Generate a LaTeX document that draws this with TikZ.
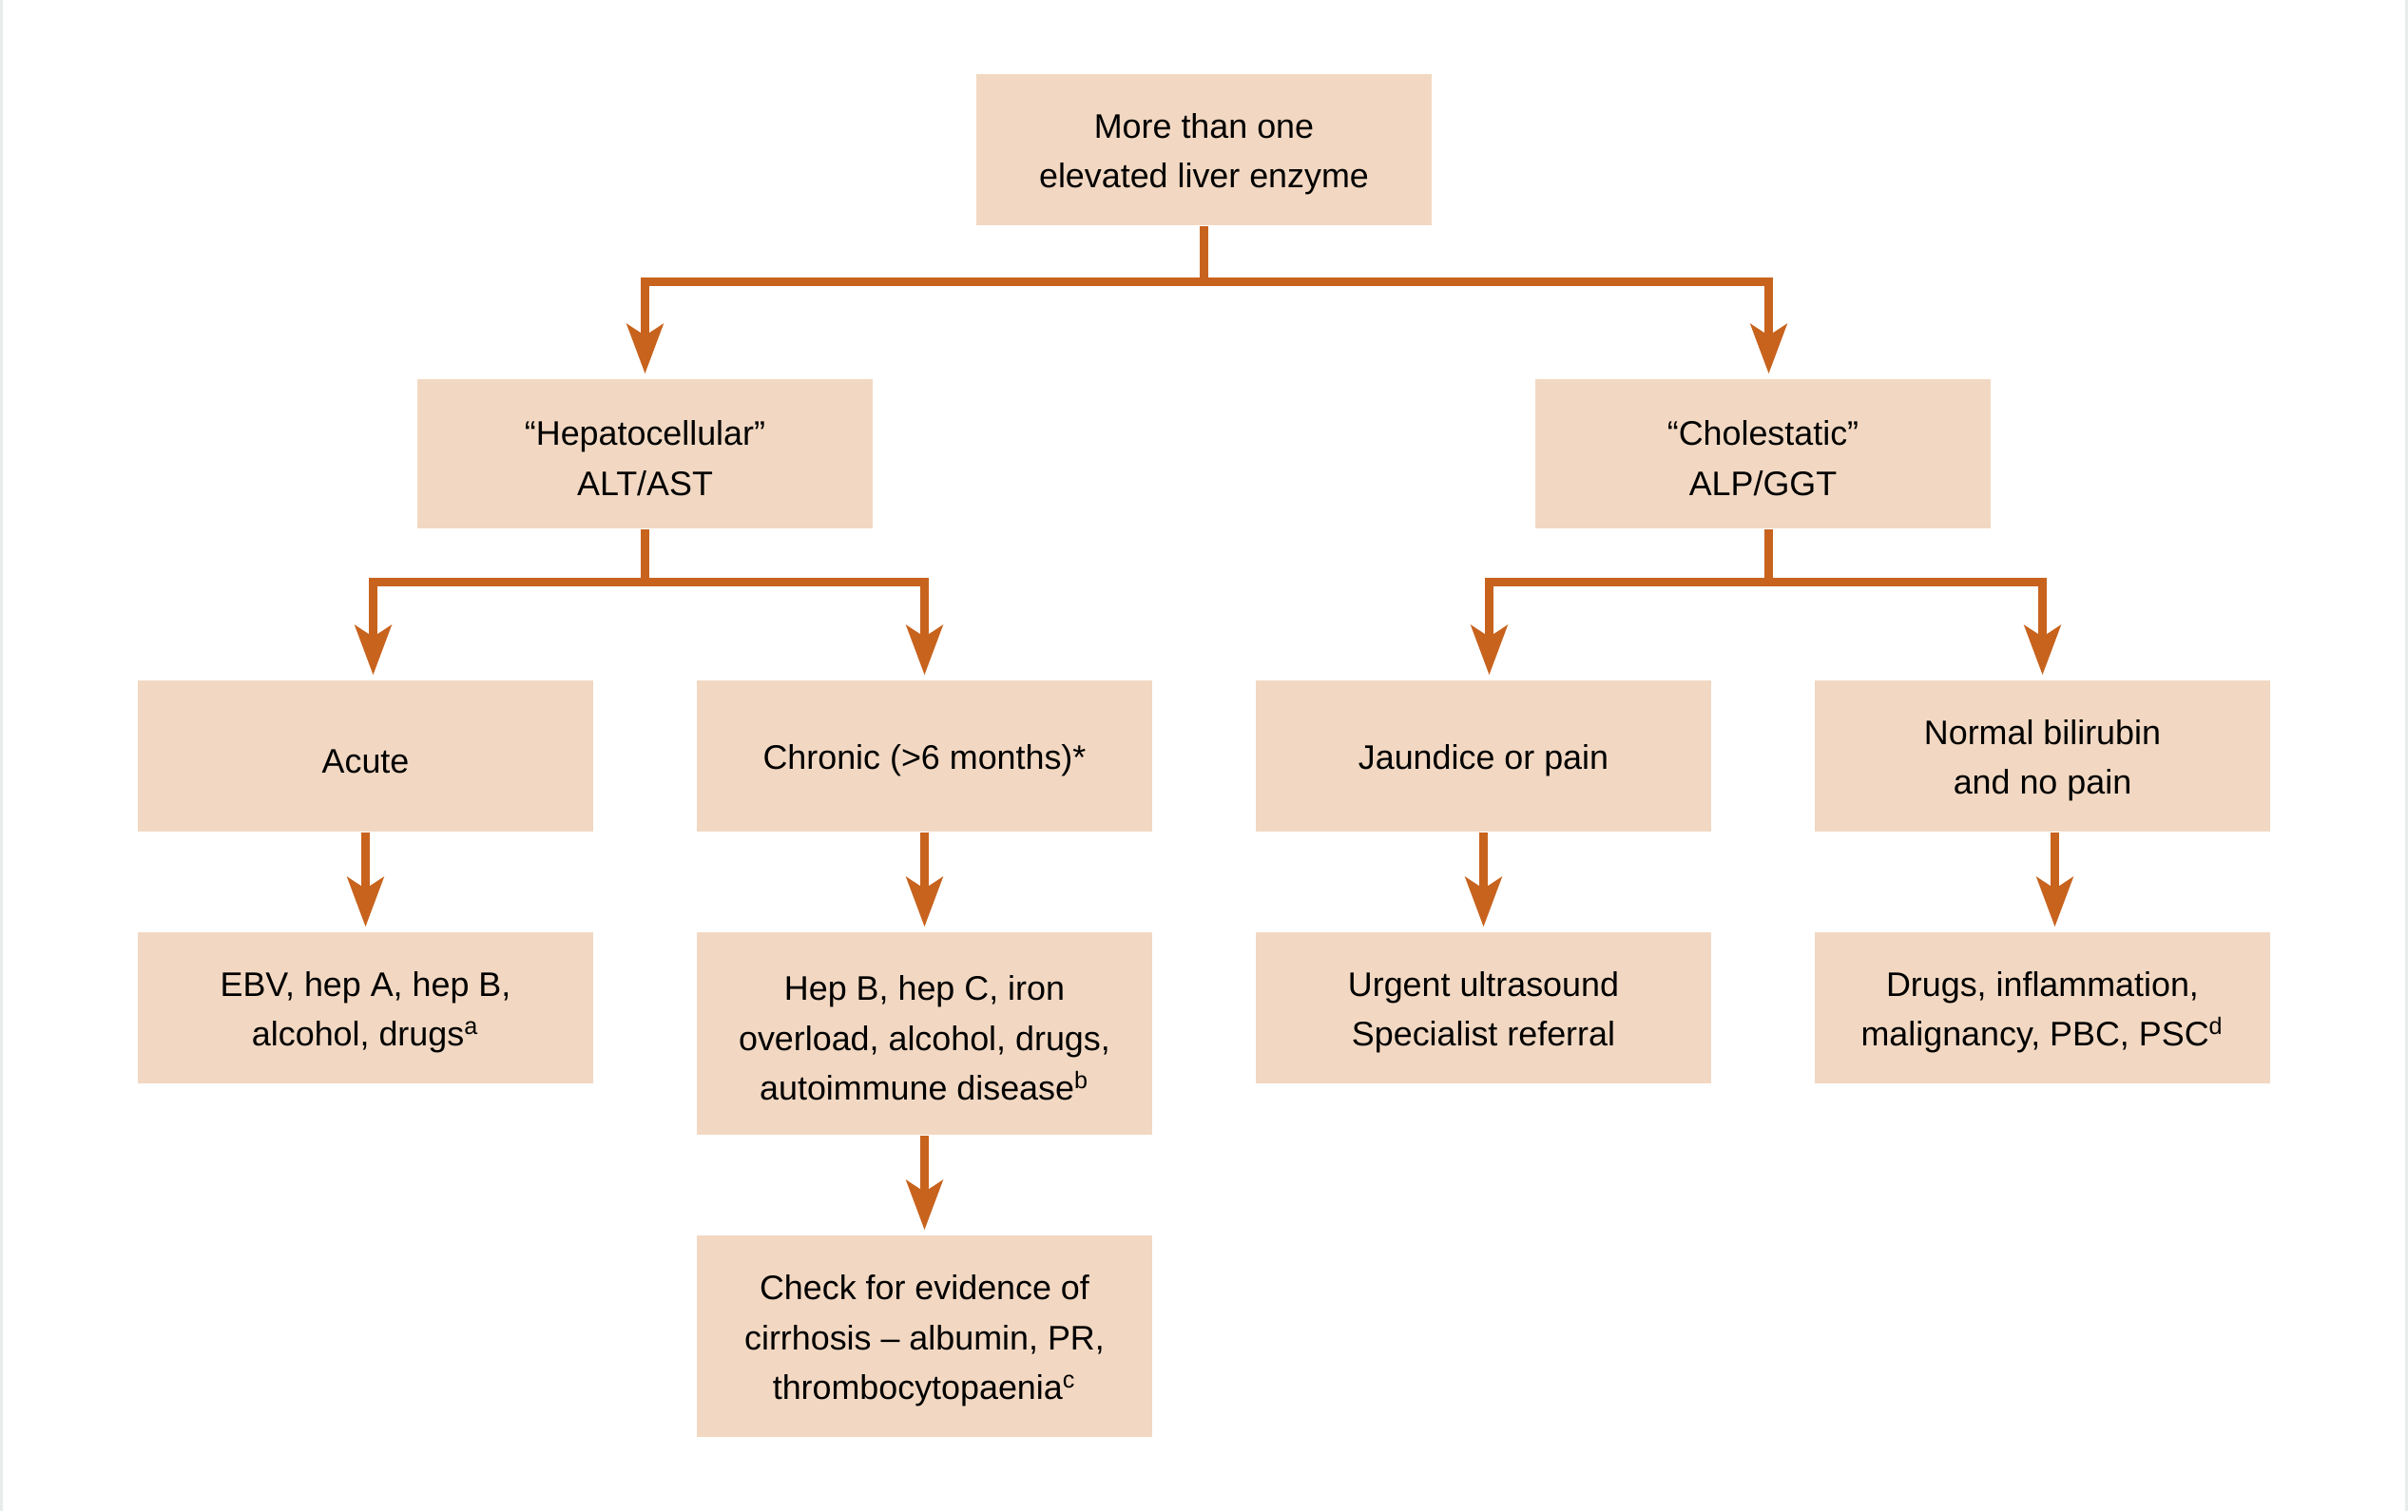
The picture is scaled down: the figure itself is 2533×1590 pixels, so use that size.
\documentclass[tikz,border=0pt]{standalone}
\usepackage{fontspec}
\setmainfont{Liberation Sans}
\usetikzlibrary{arrows.meta}
\definecolor{boxfill}{HTML}{F2D8C2}
\definecolor{arrowc}{HTML}{C8631E}
\definecolor{edgegray}{HTML}{E8ECEA}
\newcommand\toppad{\rule{0pt}{10.1pt}}
\begin{document}
\begin{tikzpicture}[x=0.01cm,y=-0.01cm,
  box/.style={fill=boxfill, draw=none, inner sep=0pt, minimum width=4.79cm,
    minimum height=1.59cm, align=center, font=\fontsize{10.2pt}{15pt}\selectfont},
  tallbox/.style={box, minimum height=2.13cm},
  link/.style={draw=arrowc, line width=0.09cm, line join=miter,
    -{Stealth[length=0.52cm,width=0.38cm,inset=0.12cm]}, shorten >=0.05cm}]
\useasboundingbox (0,0) rectangle (2533,1590);
\fill[white] (0,0) rectangle (2533,1590);
\draw[edgegray, line width=0.03cm] (1.5,0) -- (1.5,1590);
\draw[edgegray, line width=0.03cm] (2531,0) -- (2531,1590);

\node[box] (top) at (1266.5,157.5) {\toppad More than one\\elevated liver enzyme};
\node[box, minimum height=1.57cm] (hep) at (678.5,477.5) {\toppad “Hepatocellular”\\ALT/AST};
\node[box, minimum height=1.57cm] (chol) at (1854.5,477.5) {\toppad “Cholestatic”\\ALP/GGT};
\node[box] (acute) at (384.5,795.5) {\toppad Acute};
\node[box] (chronic) at (972.5,795.5) {\toppad Chronic (>6 months)*};
\node[box] (jaund) at (1560.5,795.5) {\toppad Jaundice or pain};
\node[box] (normal) at (2148.5,795.5) {\toppad Normal bilirubin\\and no pain};
\node[box] (ebv) at (384.5,1060.5) {\toppad EBV, hep A, hep B,\\alcohol, drugs\textsuperscript{a}};
\node[tallbox] (hepb) at (972.5,1087.5) {\toppad Hep B, hep C, iron\\overload, alcohol, drugs,\\autoimmune disease\textsuperscript{b}};
\node[box] (urgent) at (1560.5,1060.5) {\toppad Urgent ultrasound\\Specialist referral};
\node[box] (drugs) at (2148.5,1060.5) {\toppad Drugs, inflammation,\\malignancy, PBC, PSC\textsuperscript{d}};
\node[tallbox, minimum height=2.12cm] (check) at (972.5,1406) {\toppad Check for evidence of\\cirrhosis – albumin, PR,\\thrombocytopaenia\textsuperscript{c}};

\draw[link] (top.south) -- ++(0,59) -| (hep.north);
\draw[link] (top.south) -- ++(0,59) -| ([xshift=0.06cm]chol.north);
\draw[link] (hep.south) -- ++(0,56) -| ([xshift=0.08cm]acute.north);
\draw[link] (hep.south) -- ++(0,56) -| (chronic.north);
\draw[link] ([xshift=0.06cm]chol.south) -- ++(0,56) -| ([xshift=0.06cm]jaund.north);
\draw[link] ([xshift=0.06cm]chol.south) -- ++(0,56) -| (normal.north);
\draw[link] (acute.south) -- (ebv.north);
\draw[link] (chronic.south) -- (hepb.north);
\draw[link] (jaund.south) -- (urgent.north);
\draw[link] ([xshift=0.13cm]normal.south) -- ([xshift=0.13cm]drugs.north);
\draw[link] (hepb.south) -- (check.north);
\end{tikzpicture}
\end{document}
